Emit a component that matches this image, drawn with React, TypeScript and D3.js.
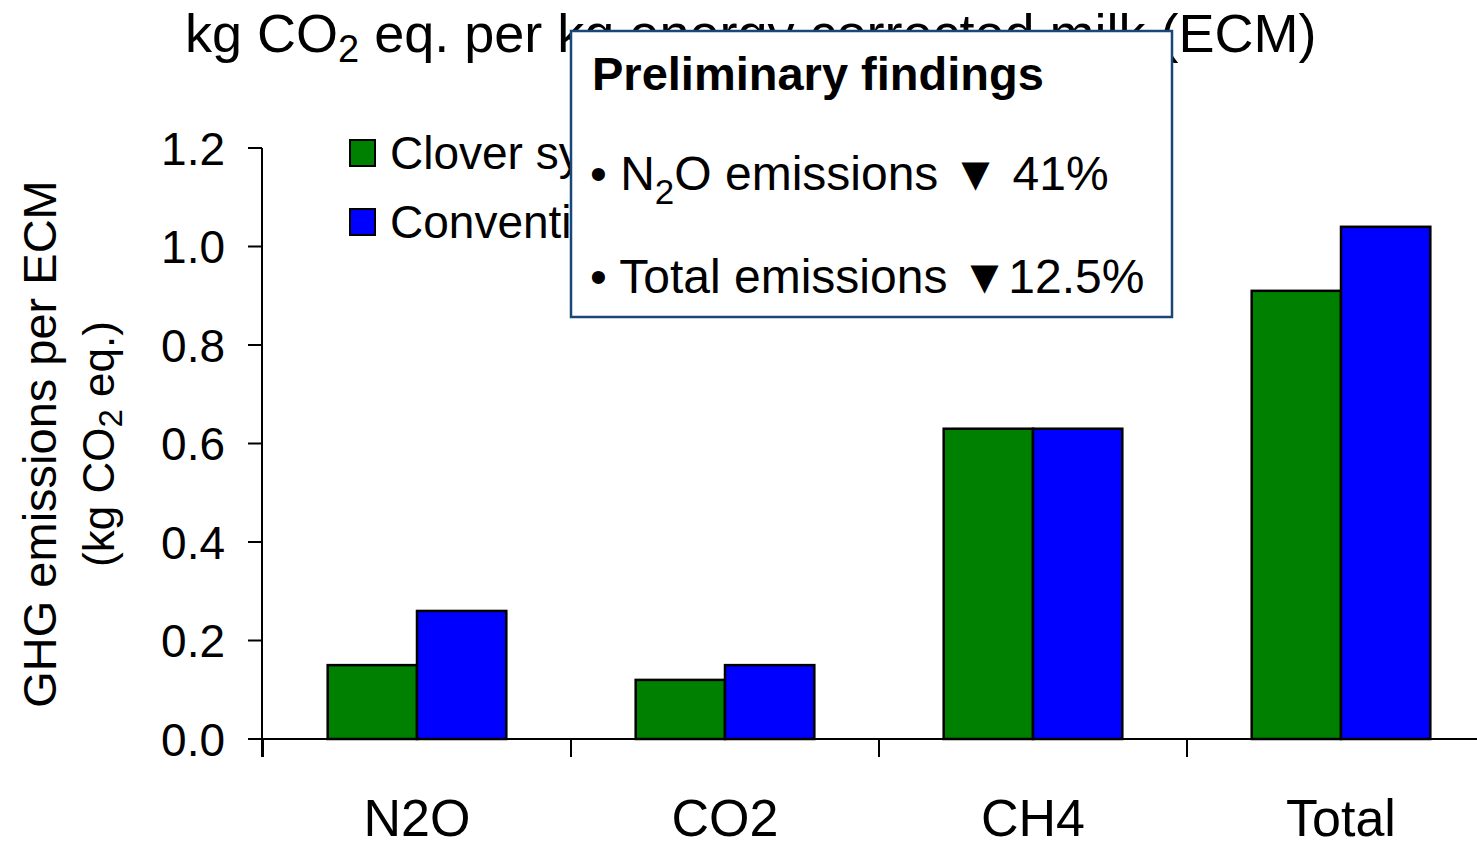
import React from "react";
import * as d3 from "d3";

const categories = ["N2O", "CO2", "CH4", "Total"];
const seriesNames = ["Clover system", "Conventional system"];
const cloverValues = [0.15, 0.12, 0.63, 0.91];
const conventionalValues = [0.26, 0.15, 0.63, 1.04];
const seriesColors = ["#008000", "#0000ff"];
const yTicks = [0, 0.2, 0.4, 0.6, 0.8, 1.0, 1.2];

const W = 1477;
const H = 843;
const FONT = "'Liberation Sans', Arial, Helvetica, sans-serif";

export default function App() {
  const x = d3
    .scaleBand<string>()
    .domain(categories)
    .range([263, 1495])
    .paddingInner(0.42)
    .paddingOuter(0.21);
  const step = x.step();
  const xSub = d3.scaleBand<number>().domain([0, 1]).range([0, x.bandwidth()]);
  const y = d3.scaleLinear().domain([0, 1.2]).range([739, 148]);
  const series = [cloverValues, conventionalValues];
  const x0 = 263;
  const catBounds = d3.range(categories.length + 1).map((i) => x0 + i * step);

  return (
    <svg
      width={W}
      height={H}
      style={{ position: "absolute", left: 0, top: 0, background: "#fff" }}
      fontFamily={FONT}
    >
      <rect x={0} y={0} width={W} height={H} fill="#fff" />
      {/* Title */}
      <text x={185} y={52} fontSize={54} fill="#000">
        kg CO
        <tspan fontSize={38} dy={10}>2</tspan>
        <tspan dy={-10}> eq. per kg energy corrected milk (ECM)</tspan>
      </text>

      {/* Y axis label */}
      <g transform={`translate(56, 444) rotate(-90)`}>
        <text x={0} y={0} fontSize={47} textAnchor="middle" fill="#000">
          GHG emissions per ECM
        </text>
      </g>
      <g transform={`translate(114, 444) rotate(-90)`}>
        <text x={0} y={0} fontSize={44} textAnchor="middle" fill="#000">
          (kg CO
          <tspan fontSize={33} dy={8}>2</tspan>
          <tspan dy={-8}> eq.)</tspan>
        </text>
      </g>

      {/* Bars */}
      {categories.map((c, i) => (
        <g key={c}>
          {series.map((vals, s) => (
            <rect
              key={s}
              x={(x(c) as number) + (xSub(s) as number)}
              y={y(vals[i])}
              width={xSub.bandwidth()}
              height={y(0) - y(vals[i])}
              fill={seriesColors[s]}
              stroke="#000"
              strokeWidth={2.5}
            />
          ))}
        </g>
      ))}

      {/* Y axis */}
      <line x1={262} x2={262} y1={148} y2={757} stroke="#000" strokeWidth={2} />
      {yTicks.map((t) => (
        <g key={t}>
          <line x1={248} x2={262} y1={y(t)} y2={y(t)} stroke="#000" strokeWidth={2} />
          <text
            x={225}
            y={y(t)}
            dy="0.36em"
            fontSize={46}
            textAnchor="end"
            fill="#000"
          >
            {t.toFixed(1)}
          </text>
        </g>
      ))}

      {/* X axis */}
      <line x1={262} x2={W} y1={y(0)} y2={y(0)} stroke="#000" strokeWidth={2} />
      {catBounds.map((b, i) => (
        <line key={i} x1={b} x2={b} y1={y(0)} y2={757} stroke="#000" strokeWidth={2} />
      ))}
      {categories.map((c) => (
        <text
          key={c}
          x={(x(c) as number) + x.bandwidth() / 2}
          y={836}
          fontSize={52}
          textAnchor="middle"
          fill="#000"
        >
          {c}
        </text>
      ))}

      {/* Legend */}
      {seriesNames.map((n, i) => (
        <g key={n} transform={`translate(350, ${140 + i * 69})`}>
          <rect x={0} y={0} width={25} height={26} fill={seriesColors[i]} stroke="#000" strokeWidth={2} />
          <text x={40} y={29} fontSize={46} fill="#000">
            {n}
          </text>
        </g>
      ))}

      {/* Findings box */}
      <rect x={571} y={31} width={601} height={286} fill="#fff" stroke="#1a4678" strokeWidth={2.5} />
      <text x={592} y={90} fontSize={47} fontWeight="bold" fill="#000">
        Preliminary findings
      </text>
      <text x={590} y={190} fontSize={48} fill="#000">
        • N
        <tspan fontSize={35} dy={14}>2</tspan>
        <tspan dy={-14}>O emissions ▼ 41%</tspan>
      </text>
      <text x={590} y={293} fontSize={48} fill="#000">
        • Total emissions ▼12.5%
      </text>
    </svg>
  );
}
